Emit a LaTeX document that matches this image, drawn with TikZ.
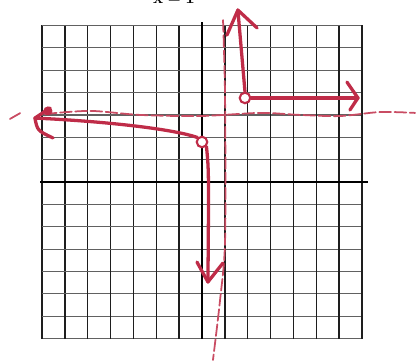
\documentclass[tikz,border=0pt]{standalone}
\usetikzlibrary{calc}
\definecolor{PenRed}{HTML}{BF2C48}
\definecolor{GridInk}{HTML}{1E1E1E}

\begin{document}
\begin{tikzpicture}[x=0.6858cm,y=0.6708cm,
  gridv/.style={GridInk,line width=1.3pt},
  gridh/.style={GridInk!70,line width=1pt},
  axisline/.style={black,line width=2.4pt},
  pen/.style={PenRed,line width=2.8pt,line cap=round,line join=round},
  asym/.style={PenRed!85,line width=1.5pt,line cap=round,dash pattern=on 10pt off 3pt},
  hole/.style={circle,draw=PenRed,line width=1.8pt,fill=white,inner sep=0pt,minimum size=9pt}]
\useasboundingbox (-8.836,-7.96) rectangle (9.405,8.14);
% Graph paper
\foreach \k in {-7,...,7} {
  \draw[gridh] (-7,\k)--(7,\k);
  \draw[gridv] (\k,-7)--(\k,7);
}
\draw[axisline] (-7.07,0)--(7.26,0);
\draw[axisline] (0,-7)--(0,7.15);
\node[font=\Large\bfseries,anchor=base] (title) at (-1.22,8.0) {$\mathbf{x=1}$};
% Asymptotes
\draw[asym] plot[smooth] coordinates {(-6.87,3.04) (-4.90,3.18) (-2.71,3.00) (-0.09,2.95)
  (2.54,3.09) (4.29,3.00) (6.04,2.95) (7.79,3.13) (9.32,3.09)};
\draw[asym] (-8.40,2.82)--(-7.87,3.13);
\draw[asym] plot[smooth] coordinates {(0.92,7.24) (1.01,3.67) (1.01,-2.59) (0.79,-5.28) (0.48,-7.96)};
% Right branch
\node[hole] (ur) at (1.88,3.76) {};
\coordinate (uptip) at (1.57,7.69);
\coordinate (upl) at (1.09,6.57);
\coordinate (upr) at (2.41,6.89);
\coordinate (rtip) at (6.82,3.76);
\coordinate (rtu) at (6.34,4.47);
\coordinate (rtd) at (6.47,3.22);
\draw[pen] (ur.north)--(uptip);
\draw[pen] (upl)--(uptip)--(upr);
\draw[pen] (ur.east)--(rtip);
\draw[pen] (rtu)--(rtip)--(rtd);
% Left branch
\node[hole] (ll) at (0,1.79) {};
\coordinate (ltip) at (-7.31,2.86);
\coordinate (ltu) at (-6.65,3.31);
\coordinate (ltd) at (-6.52,1.97);
\coordinate (dtip) at (0.26,-4.47);
\coordinate (dtl) at (-0.22,-3.58);
\coordinate (dtr) at (0.92,-3.62);
\draw[pen] (ll.north west) .. controls (-1.2,2.35) and (-4,2.7) .. (ltip);
\draw[pen] (ltu)--(ltip) .. controls (-7.2,2.3) .. (ltd);
\fill[PenRed] (-6.74,3.18) circle (0.2);
\draw[pen] (ll.south east) .. controls (0.3,0.5) .. (dtip);
\draw[pen] (dtl)--(dtip)--(dtr);
\end{tikzpicture}
\end{document}
